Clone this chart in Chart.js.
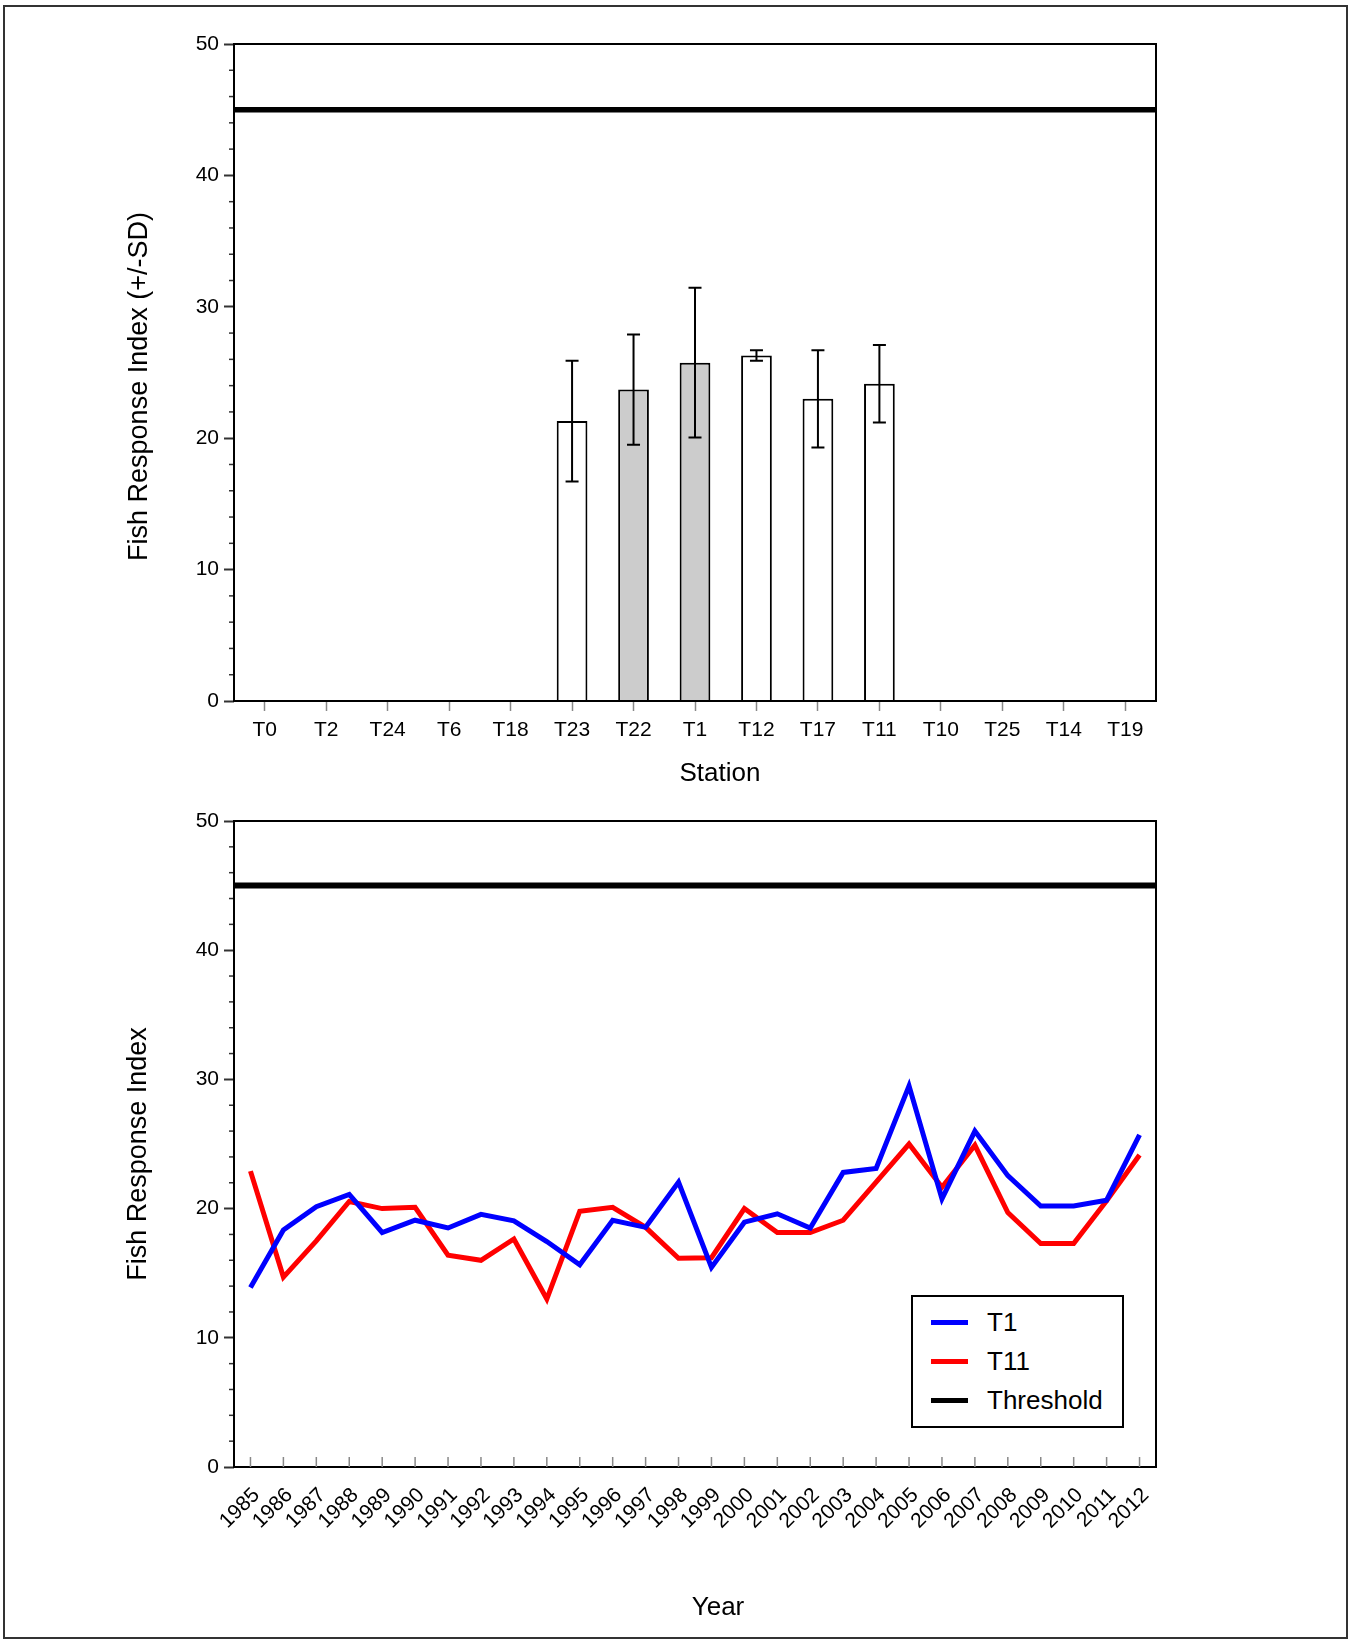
<!DOCTYPE html>
<html>
<head>
<meta charset="utf-8">
<title>Fish Response Index</title>
<script src="https://cdn.jsdelivr.net/npm/chart.js@4.4.1/dist/chart.umd.min.js"></script>
<style>
  body { margin: 0; background: #fff; font-family: "Liberation Sans", Arial, sans-serif; }
  #frame { position: absolute; left: 3px; top: 5px; width: 1345px; height: 1634px; border: 2px solid #333; box-sizing: border-box; }
  canvas { position: absolute; left: 0; }
  #top { top: 0; }
  #bottom { top: 800px; }
  #legend { position: absolute; left: 911px; top: 1295px; width: 213px; height: 133px; border: 2px solid #000; box-sizing: border-box; padding-top: 6px; background: #fff; }
  #legend .item { height: 39px; display: flex; align-items: center; font-size: 26px; color: #000; }
  #legend .swatch { width: 37px; height: 5px; margin-left: 18px; margin-right: 19px; }
</style>
</head>
<body>
<div id="frame"></div>
<canvas id="top" width="1351" height="800"></canvas>
<canvas id="bottom" width="1351" height="839"></canvas>
<div id="legend"></div>
<script>
// station means (+/- SD)
var stations = ['T0', 'T2', 'T24', 'T6', 'T18', 'T23', 'T22', 'T1', 'T12', 'T17', 'T11', 'T10', 'T25', 'T14', 'T19'];
var stationMean = [null, null, null, null, null, 21.3, 23.7, 25.75, 26.3, 23.0, 24.15, null, null, null, null];
var stationSD = [null, null, null, null, null, 4.6, 4.2, 5.7, 0.4, 3.7, 2.95, null, null, null, null];
var highlighted = ['T22', 'T1'];

// yearly series
var years = ['1985', '1986', '1987', '1988', '1989', '1990', '1991', '1992', '1993', '1994',
  '1995', '1996', '1997', '1998', '1999', '2000', '2001', '2002', '2003', '2004',
  '2005', '2006', '2007', '2008', '2009', '2010', '2011', '2012'];
var t1Values = [13.9, 18.35, 20.15, 21.1, 18.15, 19.1, 18.5, 19.55, 19.05, 17.45,
  15.65, 19.1, 18.55, 22.05, 15.45, 18.95, 19.6, 18.5, 22.8, 23.1,
  29.5, 20.75, 26.0, 22.55, 20.2, 20.2, 20.65, 25.7];
var t11Values = [22.9, 14.7, 17.5, 20.55, 20.0, 20.1, 16.4, 16.0, 17.65, 13.0,
  19.8, 20.1, 18.55, 16.15, 16.2, 20.0, 18.15, 18.15, 19.1, 22.05,
  25.0, 21.65, 24.9, 19.7, 17.3, 17.3, 20.6, 24.15];
var threshold = 45;

var FONT = '"Liberation Sans", Arial, sans-serif';
Chart.defaults.font.family = FONT;
Chart.defaults.color = '#000';

function yAxis() {
  return {
    min: 0,
    max: 50,
    ticks: { stepSize: 10, padding: 5, font: { size: 21 } },
    grid: { drawOnChartArea: false, tickLength: 10, tickColor: '#333', tickWidth: 2 },
    border: { display: false },
    afterFit: function (s) { s.width = 234; }
  };
}

// minor y ticks + box around the plot
var framePlugin = {
  id: 'frame',
  afterDraw: function (chart) {
    var ctx = chart.ctx, a = chart.chartArea, y = chart.scales.y;
    ctx.save();
    ctx.strokeStyle = '#333';
    ctx.lineWidth = 1.5;
    for (var v = 2; v < 50; v += 2) {
      if (v % 10 === 0) continue;
      var py = y.getPixelForValue(v);
      ctx.beginPath();
      ctx.moveTo(a.left - 5, py);
      ctx.lineTo(a.left, py);
      ctx.stroke();
    }
    ctx.strokeStyle = '#000';
    ctx.lineWidth = 2;
    ctx.strokeRect(a.left, a.top, a.right - a.left, a.bottom - a.top);
    ctx.restore();
  }
};

// axis titles, placed a little off the plot centre like the original
var axisTitlePlugin = {
  id: 'axisTitles',
  afterDraw: function (chart, args, o) {
    var ctx = chart.ctx, a = chart.chartArea;
    ctx.save();
    ctx.fillStyle = '#000';
    ctx.textAlign = 'center';
    ctx.textBaseline = 'middle';
    ctx.font = '26px ' + FONT;
    ctx.fillText(o.xText, (a.left + a.right) / 2 + o.dx, a.bottom + o.xGap);
    ctx.font = '27px ' + FONT;
    ctx.translate(o.yX, (a.top + a.bottom) / 2 + o.dy);
    ctx.rotate(-Math.PI / 2);
    ctx.fillText(o.yText, 0, 0);
    ctx.restore();
  }
};

var errorBarPlugin = {
  id: 'errorBars',
  afterDatasetsDraw: function (chart) {
    var ctx = chart.ctx, y = chart.scales.y;
    var meta = chart.getDatasetMeta(0);
    ctx.save();
    ctx.strokeStyle = '#000';
    ctx.lineWidth = 2;
    meta.data.forEach(function (bar, i) {
      if (stationMean[i] == null) return;
      var top = y.getPixelForValue(stationMean[i] + stationSD[i]);
      var bot = y.getPixelForValue(stationMean[i] - stationSD[i]);
      ctx.beginPath();
      ctx.moveTo(bar.x, top); ctx.lineTo(bar.x, bot);
      ctx.moveTo(bar.x - 6.5, top); ctx.lineTo(bar.x + 6.5, top);
      ctx.moveTo(bar.x - 6.5, bot); ctx.lineTo(bar.x + 6.5, bot);
      ctx.stroke();
    });
    ctx.restore();
  }
};

// tick marks pointing into the plot on the year axis
var innerTicksPlugin = {
  id: 'innerTicks',
  afterDraw: function (chart) {
    var ctx = chart.ctx, x = chart.scales.x, a = chart.chartArea;
    ctx.save();
    ctx.strokeStyle = '#888';
    ctx.lineWidth = 1.5;
    for (var i = 0; i < years.length; i++) {
      var px = x.getPixelForTick(i);
      ctx.beginPath();
      ctx.moveTo(px, a.bottom);
      ctx.lineTo(px, a.bottom - 10);
      ctx.stroke();
    }
    ctx.restore();
  }
};

var topChart = new Chart(document.getElementById('top'), {
  type: 'bar',
  data: {
    labels: stations,
    datasets: [{
      label: 'Fish Response Index',
      data: stationMean,
      backgroundColor: stations.map(function (s) { return highlighted.indexOf(s) >= 0 ? '#cccccc' : '#ffffff'; }),
      borderColor: '#000',
      borderWidth: 2,
      grouped: false,
      barPercentage: 0.5,
      categoryPercentage: 1
    }, {
      type: 'line',
      label: 'Threshold',
      xAxisID: 'x2',
      data: [{ x: 0, y: threshold }, { x: 1, y: threshold }],
      borderColor: '#000',
      borderWidth: 5.5,
      pointRadius: 0
    }]
  },
  options: {
    responsive: false,
    animation: false,
    layout: { padding: { top: 44, right: 195, bottom: 0, left: 0 } },
    plugins: {
      legend: { display: false },
      tooltip: { enabled: false },
      axisTitles: { xText: 'Station', dx: 25, xGap: 73, yText: 'Fish Response Index (+/-SD)', yX: 140, dy: 14 }
    },
    scales: {
      x: {
        offset: true,
        grid: { offset: false, drawOnChartArea: false, tickLength: 10, tickColor: '#888', tickWidth: 1.5 },
        border: { display: false },
        ticks: { font: { size: 21 }, padding: 7, maxRotation: 0, autoSkip: false },
        afterFit: function (s) { s.height = 99; }
      },
      x2: { type: 'linear', display: false, offset: false, min: 0, max: 1 },
      y: yAxis()
    }
  },
  plugins: [framePlugin, errorBarPlugin, axisTitlePlugin]
});

var bottomChart = new Chart(document.getElementById('bottom'), {
  type: 'line',
  data: {
    labels: years,
    datasets: [{
      label: 'T1',
      data: t1Values,
      borderColor: '#0000ff',
      backgroundColor: '#0000ff',
      borderWidth: 5,
      pointRadius: 0,
      borderJoinStyle: 'miter'
    }, {
      label: 'T11',
      data: t11Values,
      borderColor: '#ff0000',
      backgroundColor: '#ff0000',
      borderWidth: 5,
      pointRadius: 0,
      borderJoinStyle: 'miter'
    }, {
      label: 'Threshold',
      xAxisID: 'x2',
      data: [{ x: 0, y: threshold }, { x: 1, y: threshold }],
      borderColor: '#000',
      backgroundColor: '#000',
      borderWidth: 6,
      pointRadius: 0
    }]
  },
  options: {
    responsive: false,
    animation: false,
    layout: { padding: { top: 21, right: 195, bottom: 0, left: 0 } },
    plugins: {
      legend: { display: false },
      tooltip: { enabled: false },
      axisTitles: { xText: 'Year', dx: 23, xGap: 141, yText: 'Fish Response Index', yX: 139, dy: 10 }
    },
    scales: {
      x: {
        offset: true,
        grid: { display: false },
        border: { display: false },
        ticks: { font: { size: 21 }, padding: 8, labelOffset: 6, minRotation: 45, maxRotation: 45, autoSkip: false },
        afterFit: function (s) { s.height = 172; }
      },
      x2: { type: 'linear', display: false, offset: false, min: 0, max: 1 },
      y: yAxis()
    }
  },
  plugins: [framePlugin, innerTicksPlugin, axisTitlePlugin]
});

var legend = document.getElementById('legend');
bottomChart.data.datasets.forEach(function (ds) {
  var row = document.createElement('div');
  row.className = 'item';
  var sw = document.createElement('span');
  sw.className = 'swatch';
  sw.style.background = ds.borderColor;
  var tx = document.createElement('span');
  tx.textContent = ds.label;
  row.appendChild(sw);
  row.appendChild(tx);
  legend.appendChild(row);
});
</script>
</body>
</html>
